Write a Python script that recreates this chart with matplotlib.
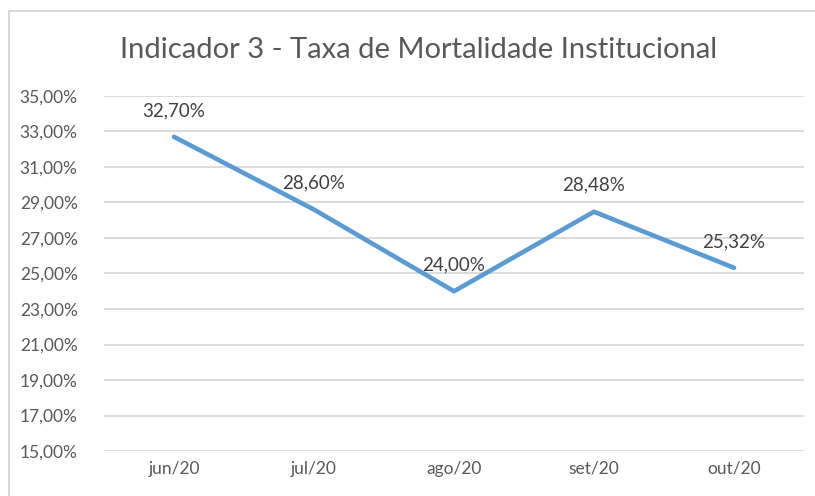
import matplotlib.pyplot as plt
from matplotlib.lines import Line2D

# Taxa de mortalidade institucional por mes
meses = ['jun/20', 'jul/20', 'ago/20', 'set/20', 'out/20']
taxa = [32.70, 28.60, 24.00, 28.48, 25.32]
y_ticks = [15, 17, 19, 21, 23, 25, 27, 29, 31, 33, 35]


def fmt_pct(v):
    return f'{v:.2f}'.replace('.', ',') + '%'


plt.rcParams['font.family'] = ['Lato', 'DejaVu Sans']

fig = plt.figure(figsize=(8.15, 4.96), dpi=100)
ax = fig.add_axes([0.1276, 0.0907, 0.8589, 0.7158])

x = list(range(len(meses)))
ax.plot(x, taxa, color='#5b9bd5', linewidth=3.3,
        solid_capstyle='round', solid_joinstyle='round', zorder=3)

for xi, v in zip(x, taxa):
    ax.annotate(fmt_pct(v), (xi, v), xytext=(0, 19), textcoords='offset points',
                ha='center', va='center', fontsize=13.5, color='#404040', zorder=4)

ax.set_xlim(-0.5, len(meses) - 0.5)
ax.set_ylim(15, 35)
ax.set_yticks(y_ticks)
ax.set_yticklabels([fmt_pct(t) for t in y_ticks])
ax.set_xticks(x)
ax.set_xticklabels(meses)
ax.tick_params(length=0, labelsize=12.5, labelcolor='#595959')
ax.tick_params(axis='y', pad=19)
ax.tick_params(axis='x', pad=7)
ax.grid(axis='y', color='#d9d9d9', linewidth=1.3)
ax.set_axisbelow(True)
for s in ax.spines.values():
    s.set_visible(False)

fig.text(0.513, 0.9, 'Indicador 3 - Taxa de Mortalidade Institucional',
         ha='center', va='center', fontsize=21, color='#595959')

# chart frame (top and left edge visible)
fx = 8.5 / 815
fy = 1 - 10.5 / 496
fig.add_artist(Line2D([fx, 1], [fy, fy], transform=fig.transFigure,
                      color='#d9d9d9', linewidth=1.5))
fig.add_artist(Line2D([fx, fx], [0, fy], transform=fig.transFigure,
                      color='#d9d9d9', linewidth=1.5))

fig.savefig('out.png', dpi=100)
